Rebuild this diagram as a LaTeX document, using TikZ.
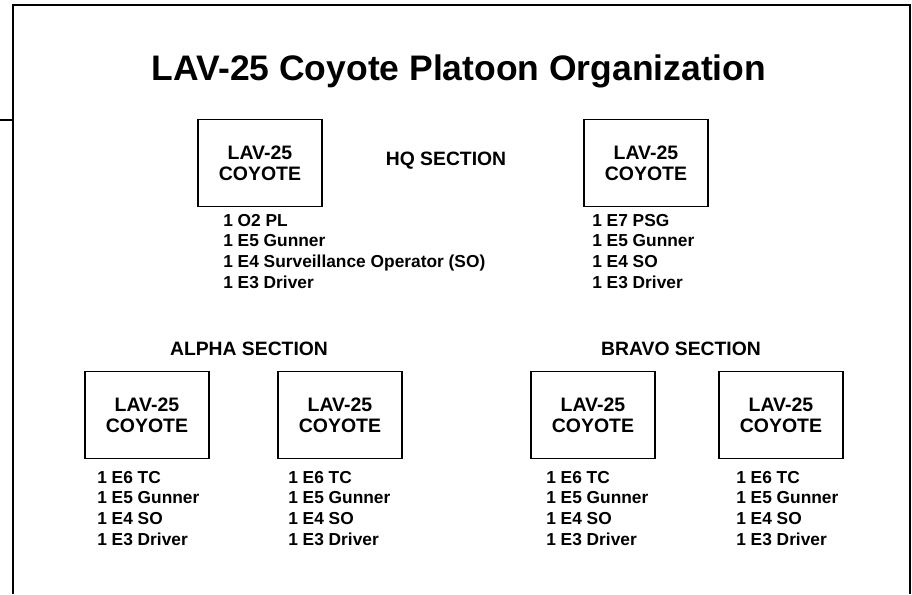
\documentclass[tikz,border=0pt]{standalone}
\usepackage{fontspec}
\setmainfont{Liberation Sans}
\usepackage{tikz}

\begin{document}
\begin{tikzpicture}[
  x=0.75pt, y=-0.75pt,
  every node/.style={font=\bfseries},
  vehicle/.style={draw, line width=0.8pt, minimum width=93pt, minimum height=65pt,
    align=center, inner sep=0pt, font=\bfseries\fontsize{14.6}{15.8}\selectfont},
  crew/.style={anchor=base west, align=left, inner sep=0pt,
    font=\bfseries\fontsize{13}{15.4}\selectfont},
  section/.style={anchor=base, inner sep=0pt, font=\bfseries\fontsize{14.5}{16}\selectfont},
  frame/.style={line width=1.5pt}
]
\useasboundingbox (0,0) rectangle (912,594);

% outer frame
\draw[frame] (13,594) -- (13,5) -- (910,5) -- (910,594);
\draw[frame] (0,120) -- (13,120);

\node[anchor=base, inner sep=0pt, font=\bfseries\fontsize{26.6}{30}\selectfont] (title) at (459,80)
  {LAV-25 Coyote Platoon Organization};

% HQ section (crew lists anchored on their last line)
\node[vehicle] (hq1) at (260,163) {LAV-25\\COYOTE};
\node[vehicle] (hq2) at (646,163) {LAV-25\\COYOTE};
\node[section] (hqlabel) at (446,165) {HQ SECTION};
\node[crew] (hq1crew) at (223,288) {1 O2 PL\\1 E5 Gunner\\1 E4 Surveillance Operator (SO)\\1 E3 Driver};
\node[crew] (hq2crew) at (592,288) {1 E7 PSG\\1 E5 Gunner\\1 E4 SO\\1 E3 Driver};

% Alpha section
\node[section] (alphalabel) at (249,355) {ALPHA SECTION};
\node[vehicle] (a1) at (147,415) {LAV-25\\COYOTE};
\node[vehicle] (a2) at (340,415) {LAV-25\\COYOTE};
\node[crew] (a1crew) at (97,545) {1 E6 TC\\1 E5 Gunner\\1 E4 SO\\1 E3 Driver};
\node[crew] (a2crew) at (288,545) {1 E6 TC\\1 E5 Gunner\\1 E4 SO\\1 E3 Driver};

% Bravo section
\node[section] (bravolabel) at (681,355) {BRAVO SECTION};
\node[vehicle] (b1) at (593,415) {LAV-25\\COYOTE};
\node[vehicle] (b2) at (781,415) {LAV-25\\COYOTE};
\node[crew] (b1crew) at (546,545) {1 E6 TC\\1 E5 Gunner\\1 E4 SO\\1 E3 Driver};
\node[crew] (b2crew) at (736,545) {1 E6 TC\\1 E5 Gunner\\1 E4 SO\\1 E3 Driver};

\end{tikzpicture}
\end{document}
